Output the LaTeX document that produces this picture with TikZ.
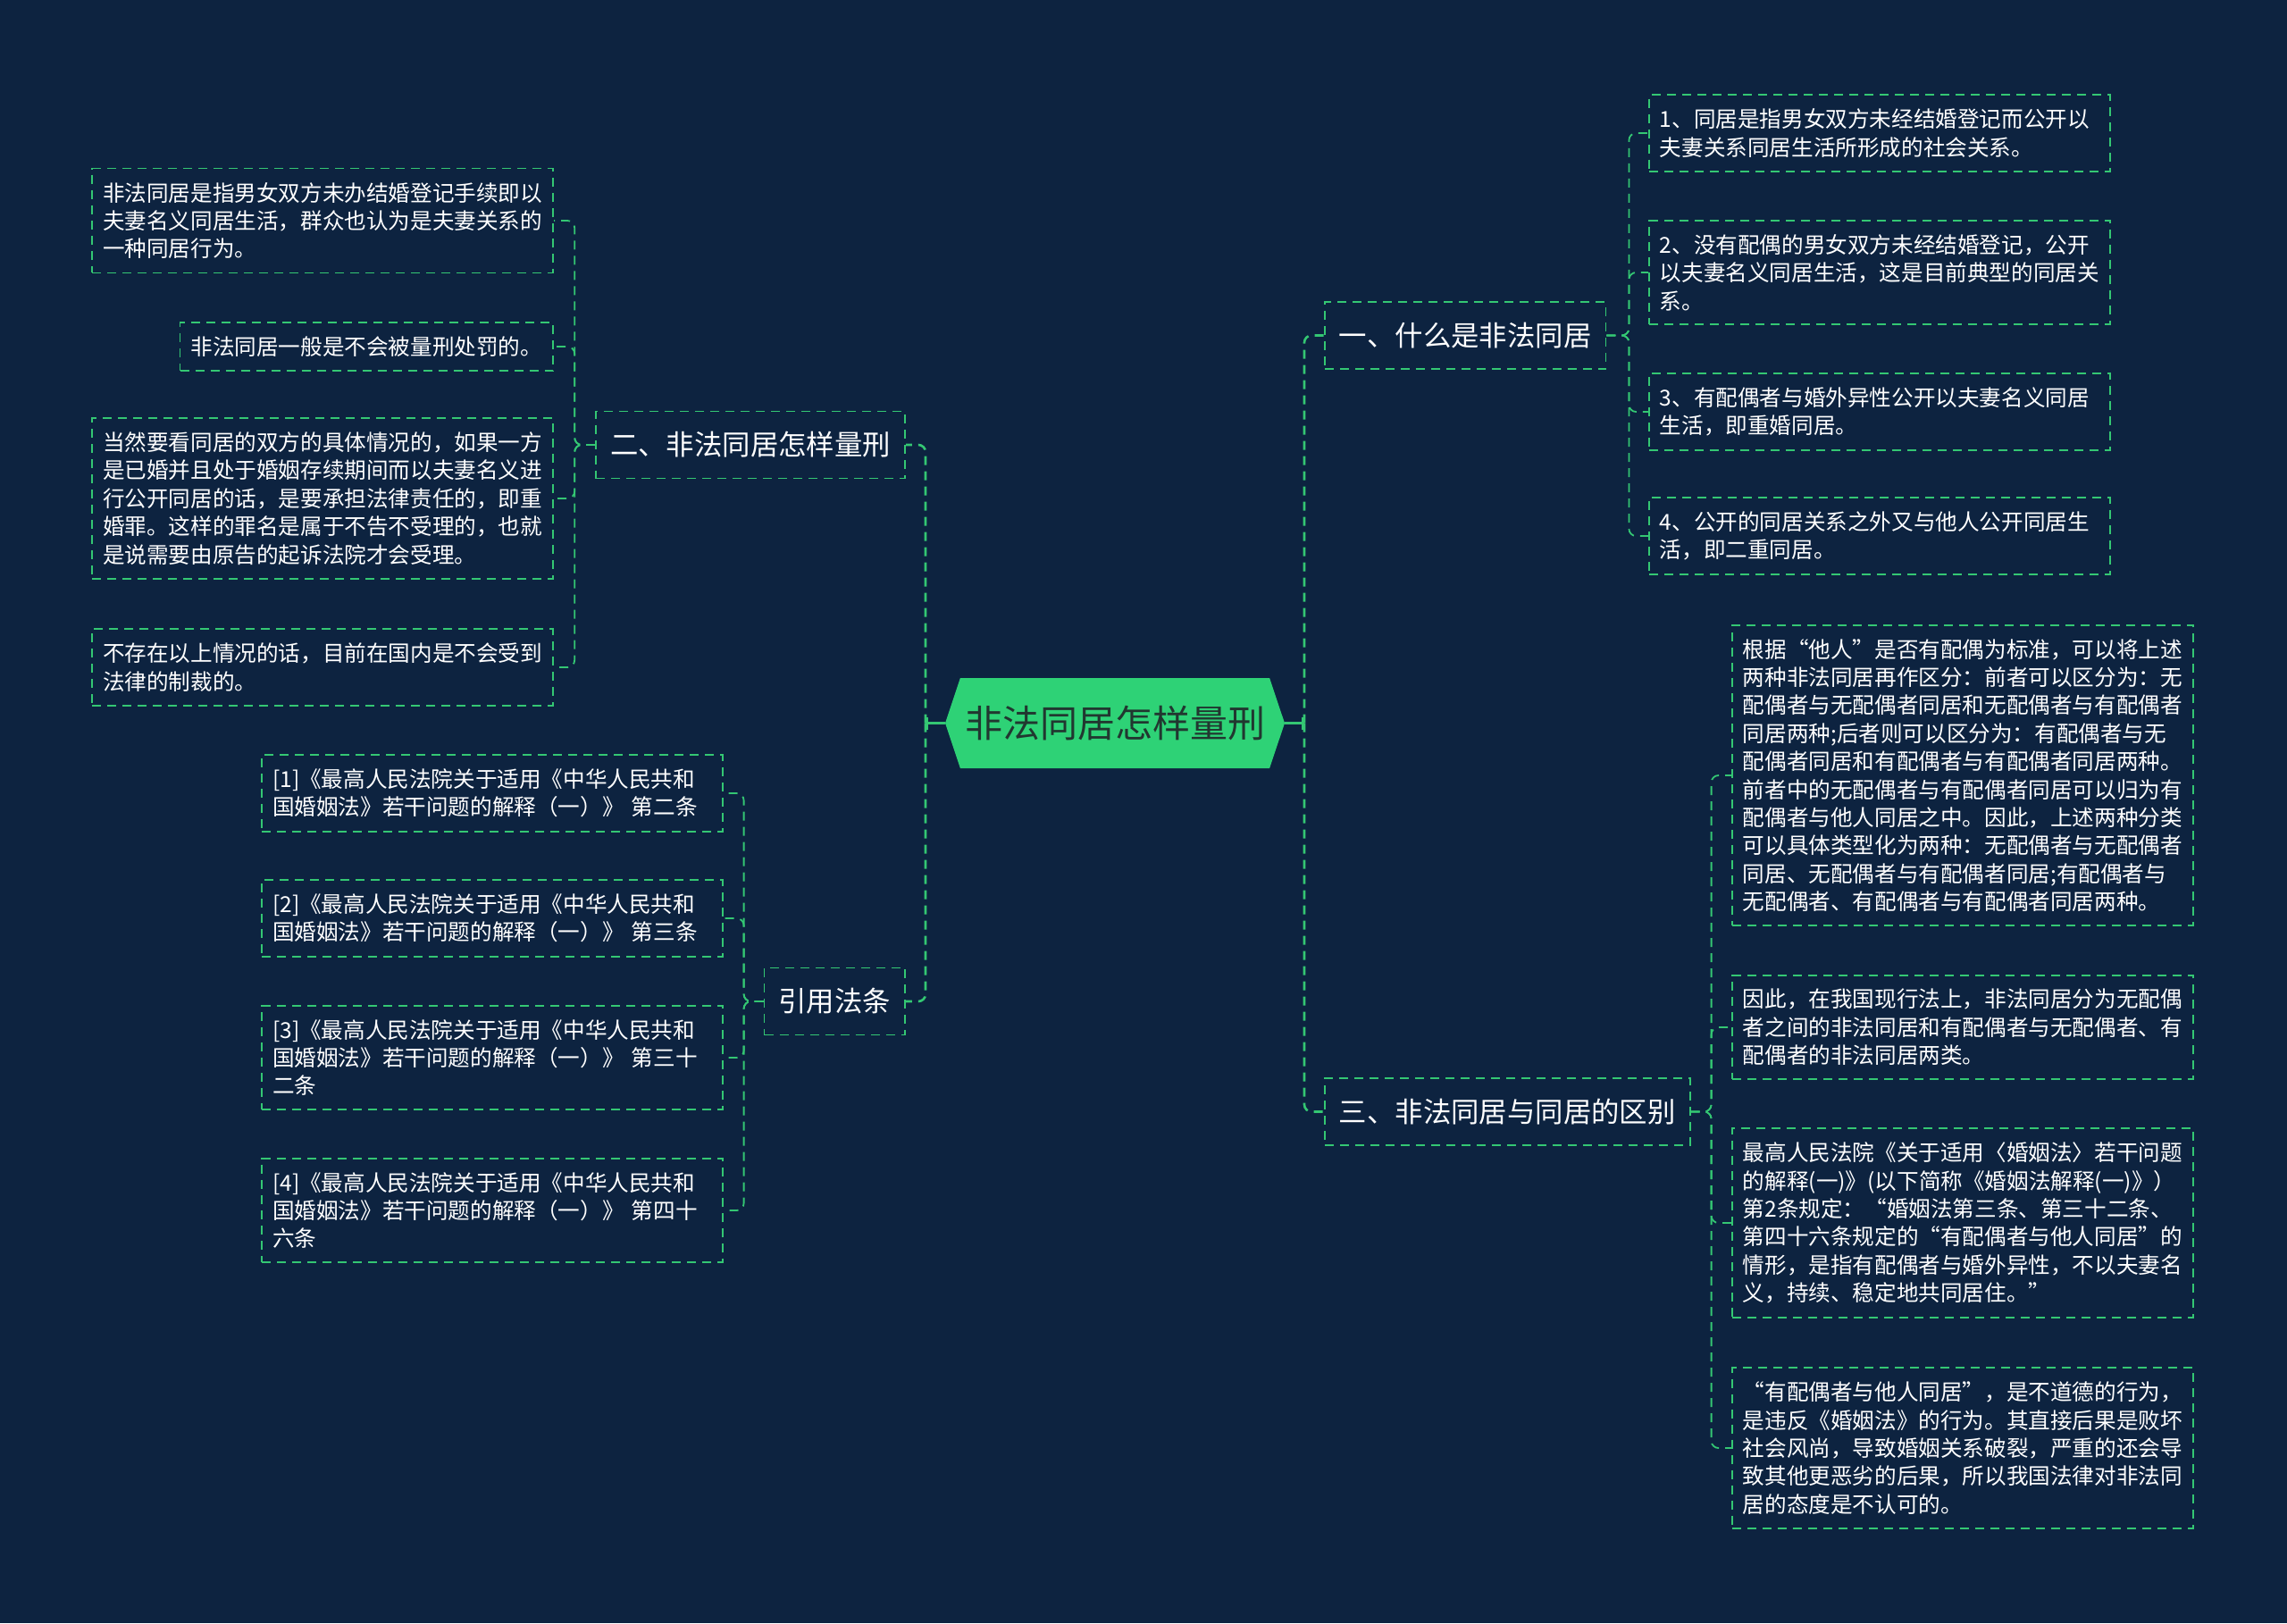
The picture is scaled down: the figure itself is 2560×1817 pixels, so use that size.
\documentclass[tikz,border=0pt]{standalone}
\usepackage{fontspec}
\newfontfamily\cjk{Noto Sans CJK SC}
\usetikzlibrary{shapes.symbols,arrows.meta}
\definecolor{bg}{RGB}{13,35,64}
\definecolor{mapgreen}{RGB}{52,199,115}
\definecolor{rootgreen}{RGB}{46,210,118}
\definecolor{rootink}{RGB}{33,55,48}

\begin{document}
\begin{tikzpicture}[x=0.5pt,y=-0.5pt,
	root/.style={signal,signal to=west and east,signal pointer angle=143,fill=rootgreen,text=rootink,
		font=\cjk\fontsize{21}{25}\selectfont,minimum width=190pt,minimum height=50.5pt,inner sep=0pt},
	box/.style={draw=mapgreen,line width=0.9pt,dash pattern=on 5pt off 3.5pt,text=white},
	topic/.style={box,font=\cjk\fontsize{15.7}{19}\selectfont,inner xsep=8pt,inner ysep=0pt,minimum height=37.5pt},
	note/.style={box,align=left,font=\cjk\fontsize{12.3}{15.7}\selectfont,inner xsep=6pt,inner ysep=7.8pt},
	wide/.style={note,text width=246pt},
	link/.style={draw=mapgreen,line width=0.9pt,dash pattern=on 5pt off 3.5pt,rounded corners=4pt},
	trunk/.style={link,line width=1.3pt},
	stub/.style={draw=mapgreen,line width=1.3pt,-{Bar[width=7pt,line width=1.3pt]}}]

	\path[use as bounding box,fill=bg] (0,0) rectangle (2560,1817);

	\node[root] (root) at (1248,809.5) {非法同居怎样量刑};

	% first level
	\node[topic,anchor=west] (whatis) at (1482,375.5) {一、什么是非法同居};
	\node[topic,anchor=west] (differ) at (1482,1244.5) {三、非法同居与同居的区别};
	\node[topic,anchor=east] (howpunish) at (1014,498) {二、非法同居怎样量刑};
	\node[topic,anchor=east] (citelaw) at (1014,1121) {引用法条};

	% 一
	\node[wide,anchor=west] (wa1) at (1845,149) {1、同居是指男女双方未经结婚登记而公开以\\夫妻关系同居生活所形成的社会关系。};
	\node[wide,anchor=west] (wa2) at (1845,305) {2、没有配偶的男女双方未经结婚登记，公开\\以夫妻名义同居生活，这是目前典型的同居关\\系。};
	\node[wide,anchor=west] (wa3) at (1845,461) {3、有配偶者与婚外异性公开以夫妻名义同居\\生活，即重婚同居。};
	\node[wide,anchor=west] (wa4) at (1845,600) {4、公开的同居关系之外又与他人公开同居生\\活，即二重同居。};

	% 三
	\node[wide,anchor=west] (df1) at (1938,868) {根据“他人”是否有配偶为标准，可以将上述\\两种非法同居再作区分：前者可以区分为：无\\配偶者与无配偶者同居和无配偶者与有配偶者\\同居两种;后者则可以区分为：有配偶者与无\\配偶者同居和有配偶者与有配偶者同居两种。\\前者中的无配偶者与有配偶者同居可以归为有\\配偶者与他人同居之中。因此，上述两种分类\\可以具体类型化为两种：无配偶者与无配偶者\\同居、无配偶者与有配偶者同居;有配偶者与\\无配偶者、有配偶者与有配偶者同居两种。};
	\node[wide,anchor=west] (df2) at (1938,1150) {因此，在我国现行法上，非法同居分为无配偶\\者之间的非法同居和有配偶者与无配偶者、有\\配偶者的非法同居两类。};
	\node[wide,anchor=west] (df3) at (1938,1369) {最高人民法院《关于适用〈婚姻法〉若干问题\\的解释(一)》(以下简称《婚姻法解释(一)》）\\第2条规定：“婚姻法第三条、第三十二条、\\第四十六条规定的“有配偶者与他人同居”的\\情形，是指有配偶者与婚外异性，不以夫妻名\\义，持续、稳定地共同居住。”};
	\node[wide,anchor=west] (df4) at (1938,1621) {“有配偶者与他人同居”，是不道德的行为，\\是违反《婚姻法》的行为。其直接后果是败坏\\社会风尚，导致婚姻关系破裂，严重的还会导\\致其他更恶劣的后果，所以我国法律对非法同\\居的态度是不认可的。};

	% 二
	\node[wide,anchor=east] (hp1) at (620,247) {非法同居是指男女双方未办结婚登记手续即以\\夫妻名义同居生活，群众也认为是夫妻关系的\\一种同居行为。};
	\node[note,anchor=east] (hp2) at (620,388) {非法同居一般是不会被量刑处罚的。};
	\node[wide,anchor=east] (hp3) at (620,558) {当然要看同居的双方的具体情况的，如果一方\\是已婚并且处于婚姻存续期间而以夫妻名义进\\行公开同居的话，是要承担法律责任的，即重\\婚罪。这样的罪名是属于不告不受理的，也就\\是说需要由原告的起诉法院才会受理。};
	\node[wide,anchor=east] (hp4) at (620,747) {不存在以上情况的话，目前在国内是不会受到\\法律的制裁的。};

	% 引用法条
	\node[wide,anchor=east] (cl1) at (810,888) {[1]《最高人民法院关于适用《中华人民共和\\国婚姻法》若干问题的解释（一）》 第二条};
	\node[wide,anchor=east] (cl2) at (810,1028) {[2]《最高人民法院关于适用《中华人民共和\\国婚姻法》若干问题的解释（一）》 第三条};
	\node[wide,anchor=east] (cl3) at (810,1184) {[3]《最高人民法院关于适用《中华人民共和\\国婚姻法》若干问题的解释（一）》 第三十\\二条};
	\node[wide,anchor=east] (cl4) at (810,1355) {[4]《最高人民法院关于适用《中华人民共和\\国婚姻法》若干问题的解释（一）》 第四十\\六条};

	% connectors
	\coordinate (rt) at (1460,809.5);
	\coordinate (lt) at (1036,809.5);
	\draw[stub] (root.east) -- (rt);
	\draw[stub] (root.west) -- (lt);
	\foreach \n in {whatis,differ} \draw[trunk] (rt) |- (\n.west);
	\foreach \n in {howpunish,citelaw} \draw[trunk] (lt) |- (\n.east);
	\foreach \i in {1,...,4} {
		\draw[link] (whatis.east) -- ++(25,0) |- (wa\i.west);
		\draw[link] (differ.east) -- ++(23,0) |- (df\i.west);
		\draw[link] (howpunish.west) -- ++(-23,0) |- (hp\i.east);
		\draw[link] (citelaw.west) -- ++(-22,0) |- (cl\i.east);
	}
\end{tikzpicture}
\end{document}
